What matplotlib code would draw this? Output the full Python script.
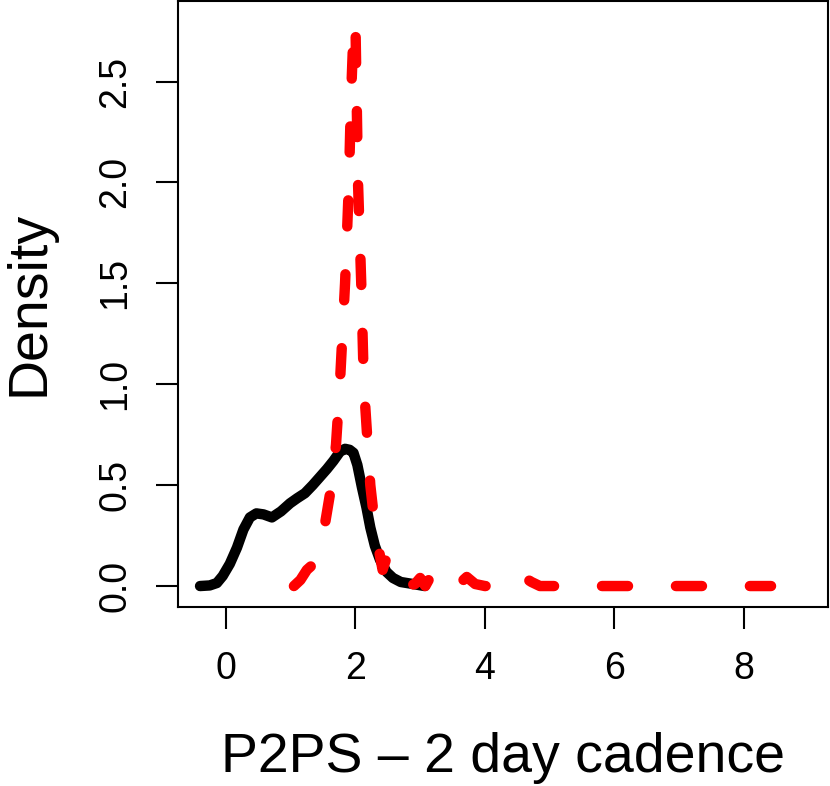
import matplotlib.pyplot as plt

# density curves
black_x = [-0.40, -0.25, -0.14, -0.05, 0.06, 0.17, 0.27, 0.37, 0.47, 0.58,
           0.71, 0.85, 0.99, 1.10, 1.22, 1.34, 1.45, 1.56, 1.66, 1.76, 1.84,
           1.91, 1.97, 2.03, 2.10, 2.17, 2.23, 2.30, 2.38, 2.48, 2.58, 2.70,
           2.89, 3.07]
black_y = [0.0, 0.003, 0.015, 0.05, 0.11, 0.19, 0.28, 0.34, 0.36, 0.355,
           0.34, 0.37, 0.41, 0.435, 0.46, 0.50, 0.54, 0.58, 0.62, 0.665, 0.68,
           0.675, 0.66, 0.60, 0.49, 0.39, 0.29, 0.20, 0.13, 0.07, 0.04, 0.02,
           0.01, 0.0]

red_x = [1.05, 1.15, 1.25, 1.32, 1.50, 1.63, 1.70, 1.76, 1.84, 1.90, 1.93,
         1.97, 2.00, 2.04, 2.09, 2.13, 2.23, 2.30, 2.35, 2.42, 2.48, 2.55,
         2.65, 2.80, 2.92, 3.00, 3.08, 3.20, 3.30, 3.45, 3.60, 3.72, 3.85,
         4.00, 4.50, 4.62, 4.72, 4.85, 8.42]
red_y = [0.0, 0.03, 0.08, 0.10, 0.25, 0.50, 0.70, 1.00, 1.50, 2.00, 2.40,
         2.75, 2.80, 2.00, 1.50, 1.00, 0.50, 0.30, 0.20, 0.08, 0.14, 0.06,
         0.01, 0.0, 0.01, 0.04, 0.0, 0.07, 0.02, 0.0, 0.01, 0.045, 0.01,
         0.0, 0.0, 0.04, 0.02, 0.0, 0.0]

x_ticks = [0, 2, 4, 6, 8]
y_ticks = [0.0, 0.5, 1.0, 1.5, 2.0, 2.5]

plt.rcParams['font.family'] = ['Liberation Sans', 'DejaVu Sans']

fig = plt.figure(figsize=(8.3, 7.86), dpi=100)
ax = fig.add_axes([0.2145, 0.2277, 0.7831, 0.7713])

ax.plot(black_x, black_y, color='black', lw=7.5, solid_capstyle='round',
        solid_joinstyle='round')
ax.plot(red_x, red_y, color='red', lw=7.5, dashes=(2.5, 4.6),
        dash_capstyle='round', dash_joinstyle='round')

ax.set_xlim(-0.74, 9.30)
ax.set_ylim(-0.104, 2.90)
ax.set_xticks(x_ticks)
ax.set_xticklabels([str(t) for t in x_ticks])
ax.set_yticks(y_ticks)
ax.set_yticklabels(['%.1f' % t for t in y_ticks], rotation=90, va='center')
ax.tick_params(length=16, width=1.5, labelsize=27, pad=16)
for s in ax.spines.values():
    s.set_linewidth(1.5)

ax.set_xlabel('P2PS \u2013 2 day cadence', fontsize=40, labelpad=32)
ax.set_ylabel('Density', fontsize=40, labelpad=30)

fig.savefig('out.png', dpi=100)
